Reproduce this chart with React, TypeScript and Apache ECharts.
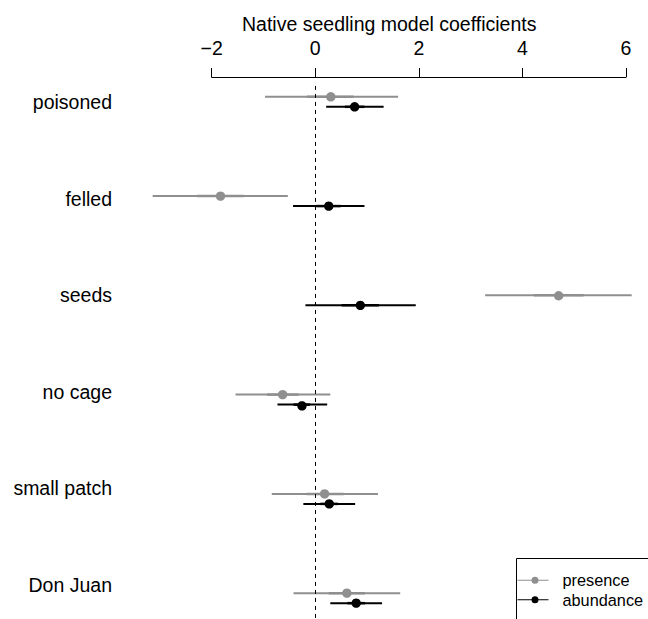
import React, { useEffect, useRef } from "react";
import * as echarts from "echarts";

const categories = ["poisoned", "felled", "seeds", "no cage", "small patch", "Don Juan"];

const presenceLow = [-0.97, -3.14, 3.28, -1.54, -0.84, -0.42];
const presenceInnerLow = [-0.16, -2.28, 4.22, -0.93, -0.17, 0.26];
const presenceEst = [0.3, -1.83, 4.7, -0.63, 0.18, 0.61];
const presenceInnerHigh = [0.74, -1.38, 5.18, -0.32, 0.55, 0.96];
const presenceHigh = [1.6, -0.53, 6.11, 0.29, 1.21, 1.64];

const abundanceLow = [0.21, -0.43, -0.19, -0.73, -0.23, 0.29];
const abundanceInnerLow = [0.57, 0.02, 0.51, -0.42, 0.1, 0.62];
const abundanceEst = [0.76, 0.26, 0.87, -0.26, 0.27, 0.79];
const abundanceInnerHigh = [0.95, 0.49, 1.23, -0.1, 0.44, 0.96];
const abundanceHigh = [1.32, 0.95, 1.94, 0.23, 0.77, 1.29];

const GRAY = "#8f8f8f";
const BLACK = "#000000";
const FONT = "Liberation Sans, Arial, Helvetica, sans-serif";

function buildRows(lo: number[], ilo: number[], est: number[], ihi: number[], hi: number[]) {
  return categories.map((_, i) => [lo[i], ilo[i], est[i], ihi[i], hi[i], i]);
}

function makeRender(color: string, dy: number) {
  return (params: any, api: any) => {
    const idx = api.value(5);
    const pLo = api.coord([api.value(0), idx]);
    const pIlo = api.coord([api.value(1), idx]);
    const pEst = api.coord([api.value(2), idx]);
    const pIhi = api.coord([api.value(3), idx]);
    const pHi = api.coord([api.value(4), idx]);
    const y = pEst[1] + dy;
    return {
      type: "group",
      children: [
        { type: "line", shape: { x1: pLo[0], y1: y, x2: pHi[0], y2: y }, style: { stroke: color, lineWidth: 2 } },
        { type: "line", shape: { x1: pIlo[0], y1: y, x2: pIhi[0], y2: y }, style: { stroke: color, lineWidth: 2.5 } },
        { type: "circle", shape: { cx: pEst[0], cy: y, r: 4.7 }, style: { fill: color } },
      ],
    };
  };
}

const legendIcon =
  "path://M0,4.25 L31,4.25 L31,5.25 L0,5.25 Z M14,4.75 A3.5,3.5 0 1 1 21,4.75 A3.5,3.5 0 1 1 14,4.75 Z";

export default function App() {
  const ref = useRef<HTMLDivElement>(null);
  useEffect(() => {
    if (!ref.current) return;
    const chart = echarts.init(ref.current, undefined, { renderer: "svg" });
    const option: any = {
      animation: false,
      backgroundColor: "#ffffff",
      textStyle: { fontFamily: FONT },
      title: {
        text: "Native seedling model coefficients",
        left: 242,
        top: 14,
        padding: 0,
        textStyle: { fontSize: 19.5, fontWeight: "normal", color: "#000", fontFamily: FONT },
      },
      grid: [
        { left: 211.7, right: 22, top: 77, bottom: 0 },
        { left: 120, right: 400, top: 102, bottom: 34 },
      ],
      xAxis: [
        {
          gridIndex: 0,
          type: "value",
          position: "top",
          min: -2,
          max: 6,
          interval: 2,
          axisLine: { show: true, onZero: false, lineStyle: { color: "#000", width: 1 } },
          axisTick: { show: true, length: 9, lineStyle: { color: "#000", width: 1 } },
          axisLabel: {
            fontSize: 19.5,
            color: "#000",
            margin: 19,
            fontFamily: FONT,
            formatter: (v: number) => (v < 0 ? "\u2212" + Math.abs(v) : String(v)),
          },
          splitLine: { show: false },
        },
        { gridIndex: 1, type: "value", show: false },
      ],
      yAxis: [
        { gridIndex: 0, type: "value", inverse: true, min: -0.25, max: 5.21, show: false },
        {
          gridIndex: 1,
          type: "category",
          inverse: true,
          boundaryGap: false,
          data: categories,
          axisLine: { show: false },
          axisTick: { show: false },
          axisLabel: { fontSize: 19.5, color: "#000", margin: 8, fontFamily: FONT },
          splitLine: { show: false },
        },
      ],
      legend: {
        orient: "vertical",
        left: 516.5,
        top: 558.5,
        padding: [12, 200, 200, 1],
        borderColor: "#000",
        borderWidth: 1,
        itemWidth: 31,
        itemHeight: 7,
        itemGap: 0,
        textStyle: { fontSize: 16.3, color: "#000", fontFamily: FONT, lineHeight: 19.5, padding: [0, 0, 0, 9] },
        data: [
          { name: "presence", icon: legendIcon },
          { name: "abundance", icon: legendIcon },
        ],
      },
      series: [
        {
          name: "presence",
          type: "custom",
          xAxisIndex: 0,
          yAxisIndex: 0,
          itemStyle: { color: GRAY },
          renderItem: makeRender(GRAY, -5),
          encode: { x: [0, 1, 2, 3, 4], y: 5 },
          data: buildRows(presenceLow, presenceInnerLow, presenceEst, presenceInnerHigh, presenceHigh),
          markLine: {
            silent: true,
            symbol: ["none", "none"],
            label: { show: false },
            lineStyle: { type: [4, 4], color: "#000", width: 1 },
            data: [[{ coord: [0, -0.16] }, { coord: [0, 5.21] }]],
          },
          z: 2,
        },
        {
          name: "abundance",
          type: "custom",
          xAxisIndex: 0,
          yAxisIndex: 0,
          itemStyle: { color: BLACK },
          renderItem: makeRender(BLACK, 5),
          encode: { x: [0, 1, 2, 3, 4], y: 5 },
          data: buildRows(abundanceLow, abundanceInnerLow, abundanceEst, abundanceInnerHigh, abundanceHigh),
          z: 3,
        },
      ],
    };
    chart.setOption(option);
    return () => chart.dispose();
  }, []);
  return (
    <div
      ref={ref}
      style={{ position: "fixed", left: 0, top: 0, width: 648, height: 619, background: "#fff" }}
    />
  );
}
